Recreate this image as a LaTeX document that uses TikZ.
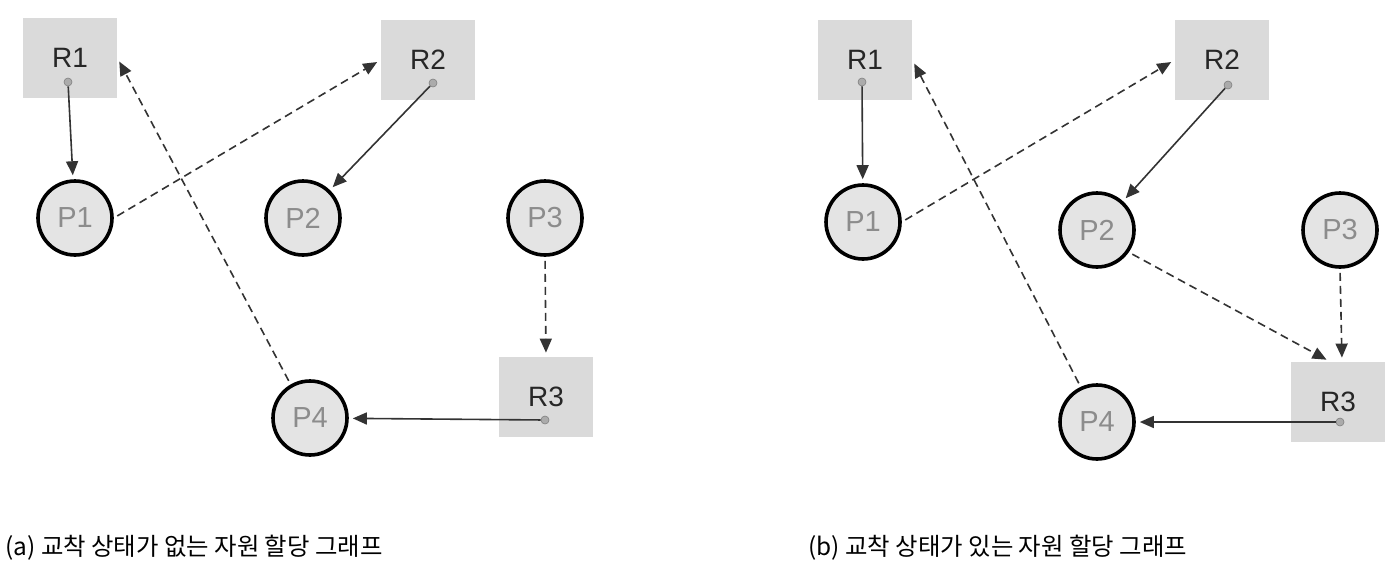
\documentclass[tikz,border=0pt]{standalone}
\usepackage{fontspec}
\setmainfont{Liberation Sans}
\newfontfamily\kofont{Noto Sans CJK KR}
\usetikzlibrary{arrows.meta,positioning,calc}
\definecolor{ink}{HTML}{333333}
\definecolor{procfill}{HTML}{E4E4E4}
\definecolor{proctext}{HTML}{8C8C8C}
\definecolor{resfill}{HTML}{DADADA}
\definecolor{dotfill}{HTML}{ABABAB}

\begin{document}
\begin{tikzpicture}[x=0.5pt,y=-0.5pt,
  res/.style={rectangle, fill=resfill, minimum width=47pt, minimum height=40pt,
    inner sep=0pt, text=black!85, font=\fontsize{14}{14}\selectfont},
  proc/.style={circle, draw=black, line width=1.8pt, fill=procfill, minimum size=37pt,
    inner sep=0pt, text=proctext, font=\fontsize{14.5}{14.5}\selectfont},
  hold/.style={circle, fill=dotfill, draw=gray, line width=0.3pt, inner sep=0pt, minimum size=4pt},
  assign/.style={draw=ink, line width=0.8pt, -{Triangle[length=7pt,width=6pt]}, shorten >=2pt},
  request/.style={assign, dash pattern=on 4pt off 2.5pt, shorten <=2pt},
  caption/.style={anchor=west, inner sep=0pt, font=\kofont\fontsize{12.2}{14}\selectfont}]
  \useasboundingbox (0,0) rectangle (1400,562);

  % (a) no deadlock
  \node[res] (ra1) at (70,58) {R1};
  \node[res] (ra2) at (428,60) {R2};
  \node[res] (ra3) at (546,397) {R3};
  \node[hold] (da1) at ([shift={(-2,24)}]ra1.center) {};
  \node[hold] (da2) at ([shift={(5,23)}]ra2.center) {};
  \node[hold] (da3) at ([shift={(-1,23)}]ra3.center) {};
  \node[proc] (pa1) at (75,218) {P1};
  \node[proc] (pa2) at (303,218) {P2};
  \node[proc] (pa3) at (545,218) {P3};
  \node[proc] (pa4) at (310,418) {P4};
  \draw[assign] (da1) -- (pa1);
  \draw[assign] (da2) -- (pa2);
  \draw[assign] (da3) -- (pa4);
  \draw[request] (pa1.east) -- (ra2.west);
  \draw[request] (pa4.120) -- (ra1.east);
  \draw[request] (pa3.south) -- (ra3.north);
  \node[caption] (capa) at (5,548) {(a) 교착 상태가 없는 자원 할당 그래프};

  % (b) deadlock
  \node[res] (rb1) at (865,60) {R1};
  \node[res] (rb2) at (1222,60) {R2};
  \node[res] (rb3) at (1338,402) {R3};
  \node[hold] (db1) at ([shift={(-3,22)}]rb1.center) {};
  \node[hold] (db2) at ([shift={(6,25)}]rb2.center) {};
  \node[hold] (db3) at ([shift={(2,20)}]rb3.center) {};
  \node[proc] (pb1) at (863,222) {P1};
  \node[proc] (pb2) at (1097,230) {P2};
  \node[proc] (pb3) at (1340,230) {P3};
  \node[proc] (pb4) at (1097,422) {P4};
  \draw[assign] (db1) -- (pb1);
  \draw[assign] (db2) -- (pb2);
  \draw[assign] (db3) -- (pb4);
  \draw[request] (pb1.east) -- (rb2.west);
  \draw[request] (pb4.115) -- (rb1.east);
  \draw[request] (pb2.-35) -- ([xshift=-4pt]rb3.north);
  \draw[request] (pb3.south) -- ([xshift=2pt]rb3.north);
  \node[caption] (capb) at (808,548) {(b) 교착 상태가 있는 자원 할당 그래프};
\end{tikzpicture}
\end{document}
